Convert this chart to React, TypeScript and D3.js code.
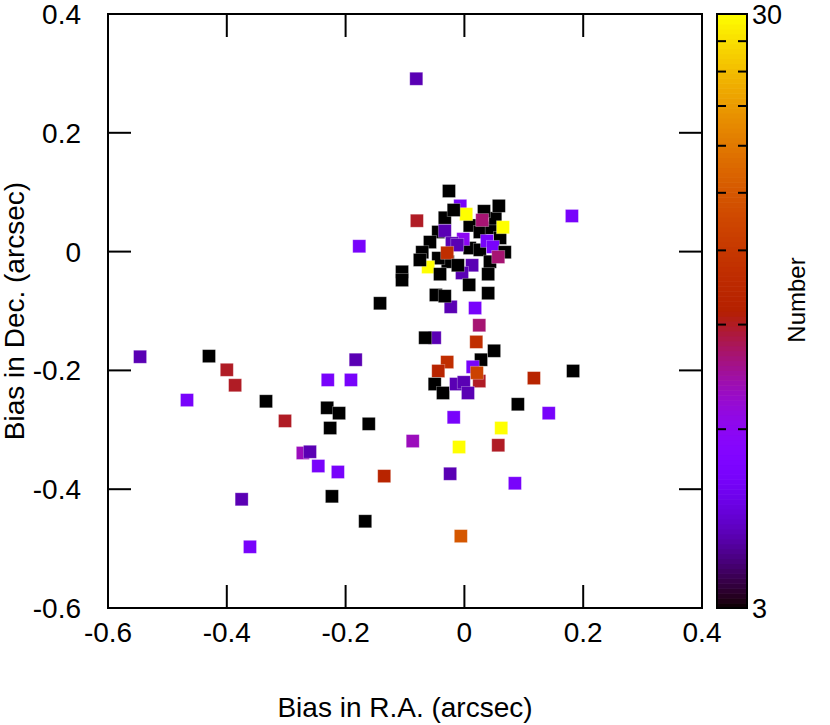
import React from "react";
import * as d3 from "d3";

// Bias in R.A. (arcsec)
const raBias = [
  0.009, 0.026, 0.046, -0.044, 0.009, 0.026, -0.028, -0.044, 0.043, 0.060, 0.052,
  -0.081, 0.181, -0.177, -0.546, -0.430, -0.400, -0.386, -0.467, -0.334, -0.302,
  -0.231, -0.211, -0.226, -0.161, -0.183, -0.230, -0.191, -0.272, -0.260, -0.246,
  -0.213, -0.135, -0.375, -0.223, -0.167, -0.361,
  -0.023, 0.018, 0.025, -0.050, -0.066, 0.020, 0.050, 0.028, -0.029, -0.044, 0.014,
  0.025, 0.021, -0.050, -0.036, -0.014, -0.001, 0.006, 0.117, 0.090, 0.142, -0.018,
  0.062, -0.087, -0.009, 0.057, 0.183, -0.024, -0.006, 0.085, -0.142,
  -0.007, 0.003, -0.026, 0.033, 0.058, -0.080, -0.033, -0.018, 0.030, 0.065, -0.033,
  -0.002, -0.021, -0.012, 0.038, 0.048, 0.068, 0.057, -0.029, -0.061, -0.058, -0.071,
  -0.075, 0.013, -0.004, -0.011, 0.040, -0.105, -0.105, -0.041, 0.008, 0.040, -0.048,
  -0.033,
];

// Bias in Dec. (arcsec)
const decBias = [
  0.044, 0.033, 0.040, 0.033, 0.006, 0.003, -0.017, -0.011, -0.017, 0.023, 0.056,
  0.291, 0.060, 0.009, -0.177, -0.176, -0.199, -0.225, -0.250, -0.252, -0.285,
  -0.263, -0.272, -0.297, -0.290, -0.182, -0.216, -0.216, -0.339, -0.337, -0.361,
  -0.371, -0.378, -0.417, -0.412, -0.454, -0.497,
  -0.093, -0.095, -0.124, -0.145, -0.145, -0.152, -0.167, -0.182, -0.186, -0.201, -0.194,
  -0.218, -0.204, -0.223, -0.238, -0.223, -0.220, -0.238, -0.213, -0.257, -0.272, -0.279,
  -0.297, -0.319, -0.329, -0.326, -0.201, -0.374, -0.479, -0.390, -0.087,
  0.077, 0.063, 0.102, 0.068, 0.077, 0.052, 0.057, 0.070, 0.053, 0.041, 0.035,
  0.021, 0.014, 0.011, 0.018, 0.008, -0.001, -0.009, -0.002, -0.026, 0.016, -0.001,
  -0.014, -0.023, -0.036, -0.023, -0.038, -0.034, -0.048, -0.038, -0.056, -0.070, -0.073,
  -0.075,
];

// Number (colour value)
const counts = [
  3, 3, 3, 3, 3, 3, 3, 3, 3, 3, 3,
  4, 5, 5, 4, 3, 9, 9, 5, 3, 9,
  3, 3, 3, 3, 4, 5, 5, 7, 4, 5,
  5, 10, 4, 3, 3, 5,
  4, 5, 8, 4, 3, 11, 3, 3, 11, 10, 5,
  9, 13, 3, 3, 4, 4, 4, 10, 3, 5, 5,
  30, 7, 30, 9, 3, 4, 15, 5, 3,
  5, 30, 3, 3, 3, 9, 3, 3, 8, 30, 4,
  6, 4, 4, 5, 5, 3, 8, 11, 30, 3, 3,
  3, 4, 4, 3, 3, 3, 3, 3, 3, 3, 3,
  3,
];

const xTicks = [-0.6, -0.4, -0.2, 0, 0.2, 0.4];
const yTicks = [-0.6, -0.4, -0.2, 0, 0.2, 0.4];
const cbTicks = [6, 9, 12, 15, 18, 21, 24, 27];
const cbLabels = [3, 30];

const W = 830;
const H = 725;
const L = 108, R = 702, T = 14, B = 608;
const CBL = 717, CBR = 747;
const FONT = "'Liberation Sans', Arial, Helvetica, sans-serif";

// gnuplot default palette rgbformulae 7,5,15
function palette(t: number): string {
  const c = Math.max(0, Math.min(1, t));
  const r = Math.sqrt(c);
  const g = c * c * c;
  const b = Math.max(0, Math.sin(2 * Math.PI * c));
  return d3.rgb(r * 255, g * 255, b * 255).formatHex();
}

export default function App() {
  const x = d3.scaleLinear().domain([-0.6, 0.4]).range([L, R]);
  const y = d3.scaleLinear().domain([-0.6, 0.4]).range([B, T]);
  const cbY = d3.scaleLog().domain([3, 30]).range([B, T]);
  const cNorm = d3.scaleLog().domain([3, 30]).range([0, 1]);

  const tickLen = 23;
  const sq = 13;

  const steps = d3.range(0, 120);
  const stepH = (B - T) / steps.length;

  const fmt = (v: number) => (Math.abs(v) < 1e-9 ? "0" : v.toFixed(1));

  return (
    <svg
      width={W}
      height={H}
      style={{ position: "absolute", left: 0, top: 0, background: "#fff" }}
      fontFamily={FONT}
    >
      <rect x={0} y={0} width={W} height={H} fill="#fff" />
      {/* points */}
      <g>
        {raBias.map((v, i) => (
          <rect
            key={i}
            x={x(v) - sq / 2}
            y={y(decBias[i]) - sq / 2}
            width={sq}
            height={sq}
            fill={palette(cNorm(counts[i]))}
            stroke="#fff"
            strokeOpacity={0.35}
            strokeWidth={0.8}
          />
        ))}
      </g>
      {/* frame */}
      <rect x={L} y={T} width={R - L} height={B - T} fill="none" stroke="#000" strokeWidth={2} />
      {/* x ticks */}
      {xTicks.map((t) => (
        <g key={"x" + t}>
          <line x1={x(t)} x2={x(t)} y1={B} y2={B - tickLen} stroke="#000" strokeWidth={2} />
          <line x1={x(t)} x2={x(t)} y1={T} y2={T + tickLen} stroke="#000" strokeWidth={2} />
          <text x={x(t)} y={642} fontSize={28} textAnchor="middle" fill="#000">
            {fmt(t)}
          </text>
        </g>
      ))}
      {/* y ticks */}
      {yTicks.map((t) => (
        <g key={"y" + t}>
          <line x1={L} x2={L + tickLen} y1={y(t)} y2={y(t)} stroke="#000" strokeWidth={2} />
          <line x1={R} x2={R - tickLen} y1={y(t)} y2={y(t)} stroke="#000" strokeWidth={2} />
          <text x={81} y={y(t) + 10} fontSize={28} textAnchor="end" fill="#000">
            {fmt(t)}
          </text>
        </g>
      ))}
      {/* axis titles */}
      <text x={(L + R) / 2} y={717} fontSize={28} textAnchor="middle" fill="#000">
        Bias in R.A. (arcsec)
      </text>
      <text
        transform={`translate(24,${(T + B) / 2}) rotate(-90)`}
        fontSize={28}
        textAnchor="middle"
        fill="#000"
      >
        Bias in Dec. (arcsec)
      </text>
      {/* colorbar */}
      <g>
        {steps.map((s) => {
          const frac = (s + 0.5) / steps.length;
          return (
            <rect
              key={s}
              x={CBL}
              y={B - (s + 1) * stepH}
              width={CBR - CBL}
              height={stepH + 0.6}
              fill={palette(frac)}
            />
          );
        })}
        <rect x={CBL} y={T} width={CBR - CBL} height={B - T} fill="none" stroke="#000" strokeWidth={2} />
        {cbTicks.map((t) => (
          <g key={"cb" + t}>
            <line x1={CBL} x2={CBL + 9} y1={cbY(t)} y2={cbY(t)} stroke="#000" strokeWidth={2} />
            <line x1={CBR} x2={CBR - 9} y1={cbY(t)} y2={cbY(t)} stroke="#000" strokeWidth={2} />
          </g>
        ))}
        {cbLabels.map((t) => (
          <text key={"cbl" + t} x={752} y={cbY(t) + 10} fontSize={27} fill="#000">
            {t}
          </text>
        ))}
        <text
          transform={`translate(805,300) rotate(-90)`}
          fontSize={24}
          textAnchor="middle"
          fill="#000"
        >
          Number
        </text>
      </g>
    </svg>
  );
}
